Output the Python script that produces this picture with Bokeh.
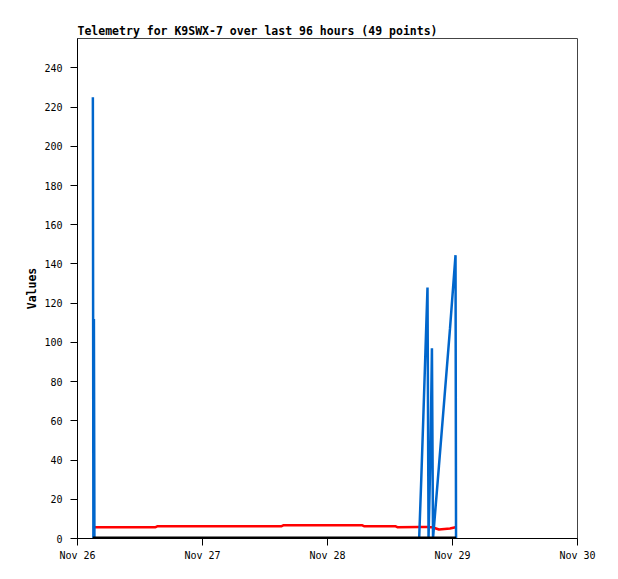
from datetime import datetime, timedelta
from bokeh.plotting import figure
from bokeh.models import ColumnDataSource, FixedTicker, DatetimeTickFormatter, Range1d
from bokeh.embed import file_html
from bokeh.resources import INLINE

TITLE = "Telemetry for K9SWX-7 over last 96 hours (49 points)"
START = datetime(2022, 11, 26)
END = datetime(2022, 11, 30)

# hours after Nov 26 00:00 for each telemetry packet
hours = [2.95, 3.05, 3.15, 3.25,
         15.0, 15.4, 39.2, 39.6, 54.6, 55.0, 61.0, 61.4,
         65.6, 66.0, 66.4, 66.8, 67.2, 67.4, 67.8, 68.05, 68.26,
         69.4, 70.46, 71.52, 72.58, 72.68]
blue = [225, 0, 112, 0,
        0, 0, 0, 0, 0, 0, 0, 0,
        0, 30, 62, 95, 128, 0, 48, 97, 0,
        37, 72, 107, 144.5, 0]
red = [5.8, 5.8, 5.8, 5.8,
       5.8, 6.3, 6.3, 6.8, 6.8, 6.3, 6.3, 5.8,
       5.9, 5.9, 5.9, 5.9, 5.9, 5.8, 5.8, 5.7, 5.6,
       4.6, 4.9, 5.1, 5.7, 5.7]
black = [0] * len(hours)

day_ticks = [datetime(2022, 11, d) for d in (26, 27, 28, 29, 30)]
y_ticks = list(range(0, 241, 20))

times = [START + timedelta(hours=h) for h in hours]
src = ColumnDataSource(dict(t=times, blue=blue, red=red, black=black))

p = figure(x_axis_type="datetime", output_backend="svg", toolbar_location=None,
           frame_width=500, frame_height=500,
           min_border_left=77, min_border_right=33, min_border_top=38, min_border_bottom=33,
           x_range=Range1d(START, END), y_range=Range1d(0, 255),
           title=TITLE)

p.line("t", "red", source=src, line_color="#FF0000", line_width=2.5)
p.line("t", "blue", source=src, line_color="#0066CC", line_width=2.5)
p.line("t", "black", source=src, line_color="#000000", line_width=4)

p.title.text_font = "DejaVu Sans Mono"
p.title.text_font_size = "11.5px"
p.title.text_font_style = "bold"
p.title.text_color = "black"
p.title.align = "left"
p.title.standoff = 2

p.xgrid.visible = False
p.ygrid.visible = False
p.outline_line_color = "#444444"
p.background_fill_color = "white"
p.border_fill_color = "white"

p.xaxis.ticker = FixedTicker(ticks=[d.timestamp() * 1000 for d in day_ticks])
p.xaxis.formatter = DatetimeTickFormatter(days="%b %d", months="%b %d", hours="%b %d")
p.yaxis.ticker = FixedTicker(ticks=y_ticks)
p.yaxis.axis_label = "Values"
p.yaxis.axis_label_text_font = "DejaVu Sans Mono"
p.yaxis.axis_label_text_font_size = "11.5px"
p.yaxis.axis_label_text_font_style = "bold"
p.yaxis.axis_label_text_color = "black"
p.yaxis.axis_label_standoff = 2

for ax in (p.xaxis, p.yaxis):
    ax.axis_line_color = "black"
    ax.major_tick_line_color = "black"
    ax.major_tick_out = 7
    ax.major_tick_in = 0
    ax.minor_tick_line_color = None
    ax.major_label_text_font = "DejaVu Sans Mono"
    ax.major_label_text_font_size = "10px"
    ax.major_label_text_color = "black"
p.yaxis.major_label_standoff = 8
p.xaxis.major_label_standoff = 4

html = file_html(p, INLINE)
open("out.html", "w").write(html)
